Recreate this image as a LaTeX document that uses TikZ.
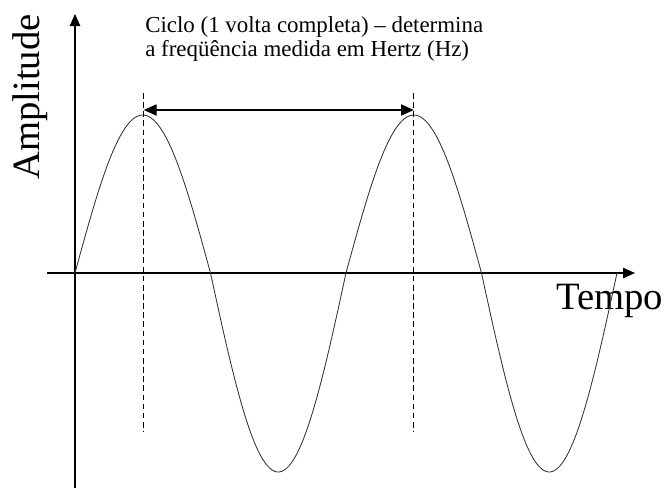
\documentclass[tikz,border=0pt]{standalone}
\usepackage{fontspec}
\setmainfont{Liberation Serif}
\usetikzlibrary{arrows.meta, calc}
\tikzset{
	axis/.style ={line width=0.9pt, -{Triangle[length=0.3cm, width=0.26cm]}},
	wave/.style ={line width=0.6pt, black!80},
	guide/.style={dash pattern=on 4pt off 2.5pt, line width=0.6pt},
	span/.style ={line width=0.8pt, {Triangle[length=0.32cm, width=0.28cm]}-{Triangle[length=0.32cm, width=0.28cm]}},
	bigl/.style ={font=\fontsize{27.5}{30}\selectfont, inner sep=0pt},
	note/.style ={font=\fontsize{16.3}{17.1}\selectfont, inner sep=0pt, align=left},
}
\begin{document}
\begin{tikzpicture}
	\useasboundingbox (-1.875,-5.375) rectangle (14.775,6.825);
	% ---- axes ----
	\coordinate (ybot) at (0,-5.375);
	\coordinate (ytop) at (0,6.475);
	\coordinate (xl) at (-0.7,0);
	\coordinate (xr) at (14.0,0);
	\draw[axis] (ybot) -- (ytop);
	\draw[axis] (xl) -- (xr);
	\node[bigl, rotate=90, anchor=base west] (amp) at (-0.875,2.325) {Amplitude};
	\node[bigl, anchor=base west] (tempo) at (12.025,-0.9) {Tempo};
	% ---- wave ----
	\foreach \k/\a in {0/3.95, 1/-4.975, 2/3.95, 3/-4.975}
		\draw[wave] plot[domain=0:180, samples=60, smooth] ({(\k*180+\x)/360*6.775}, {\a*sin(\x)});
	% ---- one cycle ----
	\coordinate (g1top) at (1.72,4.5);
	\coordinate (g1bot) at (1.72,-3.975);
	\coordinate (g2top) at (8.47,4.5);
	\coordinate (g2bot) at (8.47,-3.975);
	\draw[guide] (g1top) -- (g1bot);
	\draw[guide] (g2top) -- (g2bot);
	\coordinate (s1) at (1.72,4.075);
	\coordinate (s2) at (8.47,4.075);
	\draw[span] (s1) -- (s2);
	\node[note, anchor=north west] (ciclo) at (1.75,6.425) {Ciclo (1 volta completa) -- determina\\a freqüência medida em Hertz (Hz)};
\end{tikzpicture}
\end{document}
